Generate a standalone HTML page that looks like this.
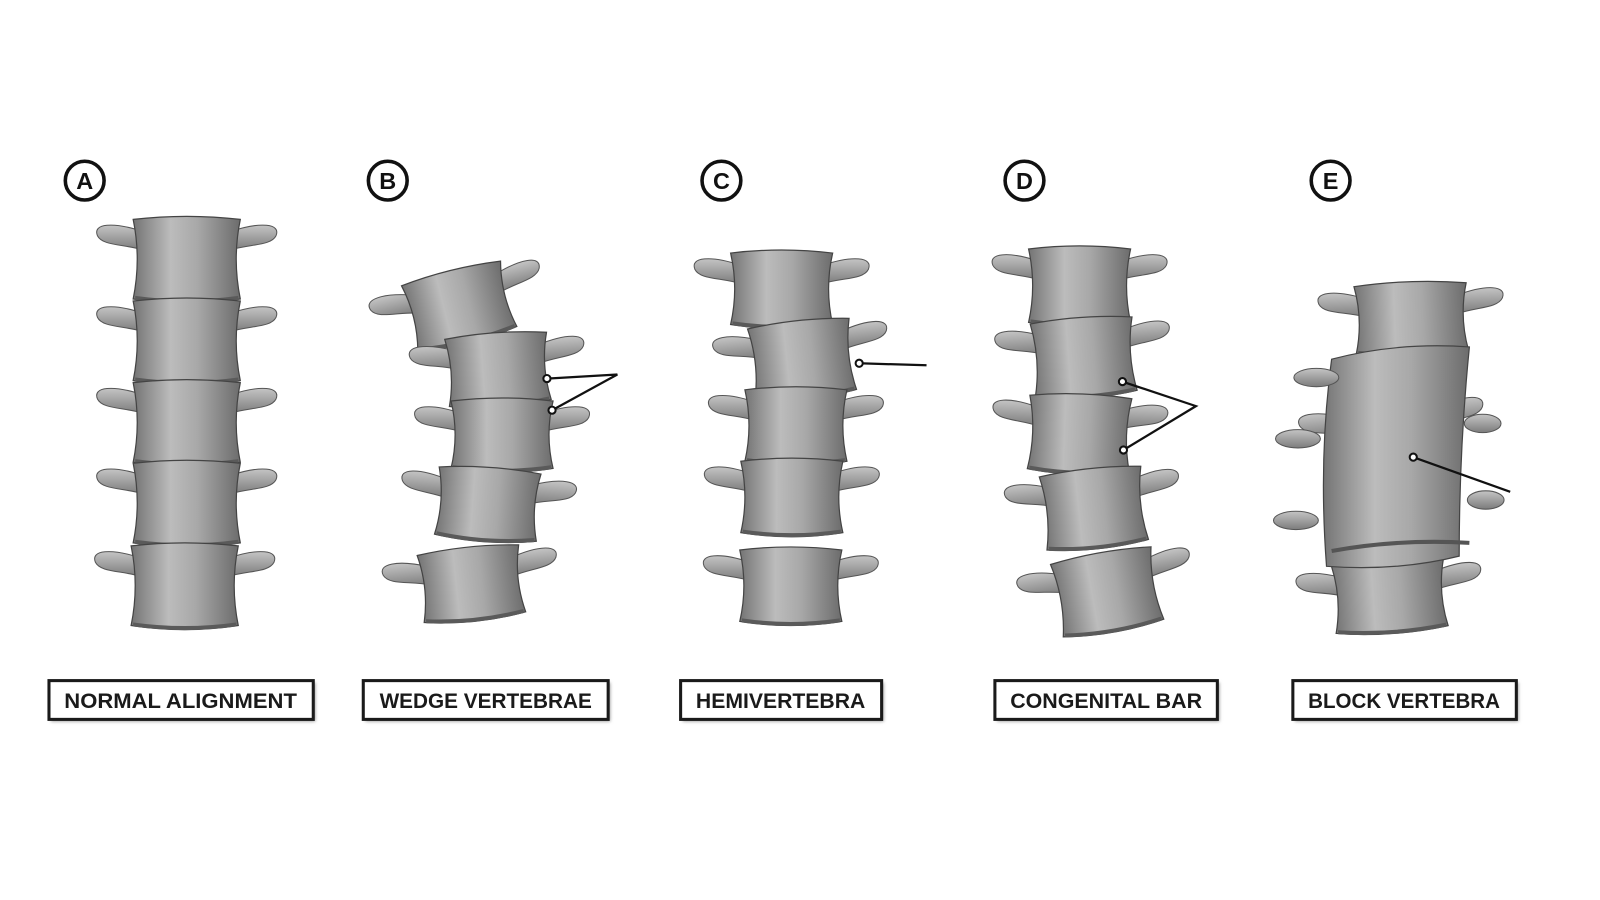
<!DOCTYPE html>
<html><head><meta charset="utf-8"><style>
html,body{margin:0;padding:0;background:#fff;}
svg{display:block;}
text{font-family:"Liberation Sans",sans-serif;font-weight:bold;}
</style></head><body>
<svg id="s" width="1600" height="900" viewBox="0 0 1568 882" preserveAspectRatio="none" xmlns="http://www.w3.org/2000/svg">
<defs>
<linearGradient id="g" x1="0" x2="1" y1="0" y2="0">
<stop offset="0" stop-color="#747474"/><stop offset="0.35" stop-color="#bcbcbc"/><stop offset="0.6" stop-color="#a8a8a8"/><stop offset="1" stop-color="#6c6c6c"/>
</linearGradient>
<linearGradient id="p" x1="0" x2="0" y1="0" y2="1">
<stop offset="0" stop-color="#c4c4c4"/><stop offset="1" stop-color="#7c7c7c"/>
</linearGradient>
<filter id="sh"><feGaussianBlur stdDeviation="1.5"/></filter>
</defs>
<g id="spines"></g>
<g fill="none" stroke="#111" stroke-width="3.5">
<circle cx="83" cy="177" r="19"/><circle cx="380" cy="177" r="19"/><circle cx="707" cy="177" r="19"/><circle cx="1004" cy="177" r="19"/><circle cx="1304" cy="177" r="19"/>
</g>
<g font-size="23" text-anchor="middle" fill="#111">
<text x="83" y="185">A</text><text x="380" y="185">B</text><text x="707" y="185">C</text><text x="1004" y="185">D</text><text x="1304" y="185">E</text>
</g>
<g stroke="#111" stroke-width="2.2" fill="none">
<polyline points="536,371 605,367 541,402"/>
<line x1="842" y1="356" x2="908" y2="358"/>
<polyline points="1100,374 1172,398 1101,441"/>
<line x1="1385" y1="448" x2="1480" y2="482"/>
</g>
<g stroke="#111" stroke-width="2" fill="#fff">
<circle cx="536" cy="371" r="3.5"/><circle cx="541" cy="402" r="3.5"/><circle cx="842" cy="356" r="3.5"/>
<circle cx="1100" cy="374" r="3.5"/><circle cx="1101" cy="441" r="3.5"/><circle cx="1385" cy="448" r="3.5"/>
</g>
<g>
<rect x="50" y="669" width="259" height="38" fill="#999" filter="url(#sh)"/>
<rect x="358" y="669" width="240" height="38" fill="#999" filter="url(#sh)"/>
<rect x="669" y="669" width="197" height="38" fill="#999" filter="url(#sh)"/>
<rect x="977" y="669" width="218" height="38" fill="#999" filter="url(#sh)"/>
<rect x="1269" y="669" width="219" height="38" fill="#999" filter="url(#sh)"/>
</g>
<g fill="#fff" stroke="#1a1a1a" stroke-width="3">
<rect x="48" y="667" width="259" height="38"/><rect x="356" y="667" width="240" height="38"/><rect x="667" y="667" width="197" height="38"/><rect x="975" y="667" width="218" height="38"/><rect x="1267" y="667" width="219" height="38"/>
</g>
<g font-size="20.5" text-anchor="middle" fill="#1a1a1a">
<text x="177" y="694" textLength="228" lengthAdjust="spacingAndGlyphs">NORMAL ALIGNMENT</text>
<text x="476" y="694" textLength="208" lengthAdjust="spacingAndGlyphs">WEDGE VERTEBRAE</text>
<text x="765" y="694" textLength="166" lengthAdjust="spacingAndGlyphs">HEMIVERTEBRA</text>
<text x="1084" y="694" textLength="188" lengthAdjust="spacingAndGlyphs">CONGENITAL BAR</text>
<text x="1376" y="694" textLength="188" lengthAdjust="spacingAndGlyphs">BLOCK VERTEBRA</text>
</g>
</svg>
<script>
var NS="http://www.w3.org/2000/svg",root=document.getElementById("spines");
function el(t,a,p){var e=document.createElementNS(NS,t);for(var k in a)e.setAttribute(k,a[k]);(p||root).appendChild(e);return e;}
function vert(cx,cy,rot,w,h){
 var g=el("g",{transform:"translate("+cx+","+cy+") rotate("+rot+")"});
 var hw=w/2,hh=h/2;
 el("path",{d:"M"+(-hw+10)+","+(-hh+12)+" C"+(-hw-20)+","+(-hh+2)+" "+(-hw-40)+","+(-hh+4)+" "+(-hw-35)+","+(-hh+16)+" C"+(-hw-30)+","+(-hh+26)+" "+(-hw-10)+","+(-hh+24)+" "+(-hw+10)+","+(-hh+30)+"Z",fill:"url(#p)",stroke:"#555","stroke-width":1},g);
 el("path",{d:"M"+(hw-10)+","+(-hh+12)+" C"+(hw+20)+","+(-hh+2)+" "+(hw+40)+","+(-hh+4)+" "+(hw+35)+","+(-hh+16)+" C"+(hw+30)+","+(-hh+26)+" "+(hw+10)+","+(-hh+24)+" "+(hw-10)+","+(-hh+30)+"Z",fill:"url(#p)",stroke:"#555","stroke-width":1},g);
 el("path",{d:"M"+(-hw)+","+(-hh)+" Q0,"+(-hh-6)+" "+hw+","+(-hh)+" Q"+(hw-8)+",0 "+hw+","+hh+" Q0,"+(hh+8)+" "+(-hw)+","+hh+" Q"+(-hw+8)+",0 "+(-hw)+","+(-hh)+"Z",fill:"url(#g)",stroke:"#444","stroke-width":1.2},g);
 el("path",{d:"M"+(-hw+2)+","+(hh-3)+" Q0,"+(hh+4)+" "+(hw-2)+","+(hh-3)+" L"+(hw-2)+","+(hh+1)+" Q0,"+(hh+8)+" "+(-hw+2)+","+(hh+1)+"Z",fill:"#5a5a5a"},g);
}
function spine(list,w,h){list.forEach(function(v){vert(v[0],v[1],v[2],w,h);});}
spine([[183,254,0],[183,334,0],[183,414,0],[183,493,0],[181,574,0]],105,78);
spine([[450,300,-14],[488,362,-4],[492,426,0],[478,494,4],[462,572,-6]],100,66);
spine([[766,283,0],[786,352,-6],[780,417,0],[776,487,0],[775,574,0]],100,70);
spine([[1058,280,0],[1062,350,-4],[1058,425,2],[1072,498,-6],[1085,580,-10]],100,72);
spine([[1383,312,-2],[1365,425,-6],[1362,584,-4]],110,66);
el("path",{d:"M1305,352 Q1370,335 1440,340 Q1430,440 1430,545 Q1370,560 1300,555 Q1292,450 1305,352Z",fill:"url(#g)",stroke:"#444","stroke-width":1.2});
[[1300,370],[1282,430],[1280,510]].forEach(function(p){el("ellipse",{cx:p[0]-10,cy:p[1],rx:22,ry:9,fill:"url(#p)",stroke:"#555"});});
[[1445,415],[1448,490]].forEach(function(p){el("ellipse",{cx:p[0]+8,cy:p[1],rx:18,ry:9,fill:"url(#p)",stroke:"#555"});});
el("path",{d:"M1305,540 Q1370,528 1440,532",fill:"none",stroke:"#555","stroke-width":4});
</script>
</body></html>
